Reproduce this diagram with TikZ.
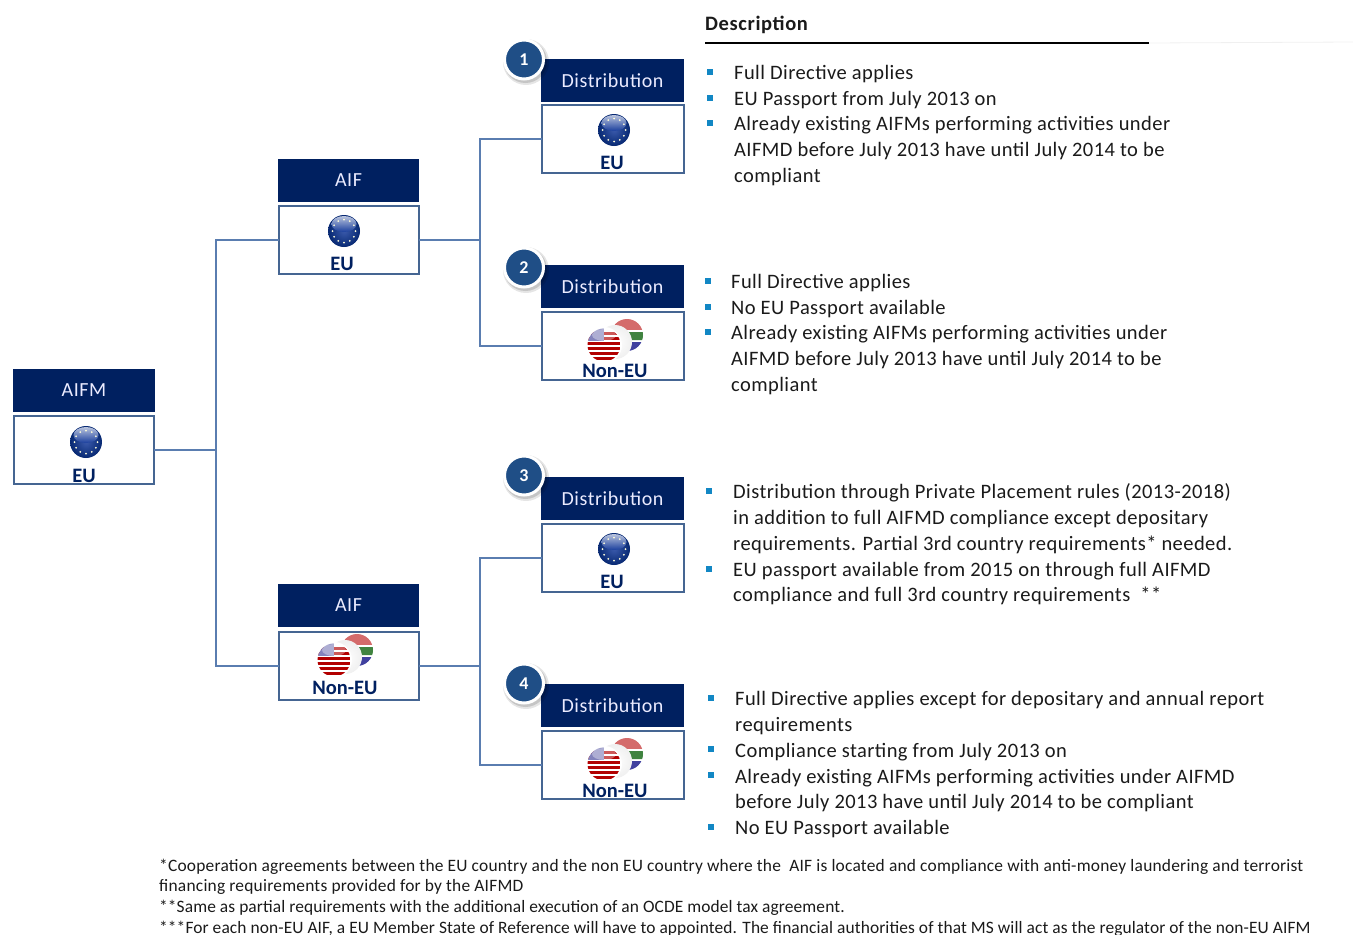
\documentclass[tikz,border=0pt]{standalone}
\usepackage{fontspec}
\setmainfont{Carlito}
\newfontfamily\bodyf[LetterSpace=2.1]{Carlito}
\newfontfamily\headf[LetterSpace=3]{Carlito}
\newfontfamily\noteA[LetterSpace=1.3]{Carlito}
\newfontfamily\noteB[LetterSpace=0.6]{Carlito}
\usetikzlibrary{calc}
\definecolor{navy}{HTML}{002060}
\definecolor{boxline}{HTML}{456592}
\definecolor{wire}{HTML}{5A7DB0}
\definecolor{bul}{HTML}{1287C4}
\definecolor{body}{HTML}{1A1A1A}
\definecolor{ball}{HTML}{1F4E86}
\definecolor{eublue}{HTML}{173C9C}
\tikzset{
 x=1pt,y=-1pt,
 head/.style={fill=navy,text=white!92!blue,font=\headf\fontsize{20}{24}\selectfont,minimum height=43pt,minimum width=142pt,inner sep=0pt,outer sep=0pt},
 boxA/.style={draw=boxline,line width=2pt,fill=white,minimum width=140pt,minimum height=68pt,inner sep=0pt,outer sep=0pt},
 boxB/.style={boxA,minimum width=142pt},
 wirel/.style={draw=wire,line width=2pt},
 lab/.style={text=navy,font=\bfseries\fontsize{20.5}{24}\selectfont,inner sep=0pt},
 num/.style={circle,draw=white,line width=3pt,fill=ball,text=white,font=\bfseries\fontsize{18}{20}\selectfont,minimum size=39pt,inner sep=0pt},
 para/.style={anchor=north west,align=left,inner sep=0pt,text=body,font=\bodyf\fontsize{20.5}{25.7}\selectfont},
 note/.style={anchor=north west,align=left,inner sep=0pt,text=body,font=\noteA\fontsize{17.4}{20.5}\selectfont},
 bullet/.style={fill=bul,minimum size=6pt,inner sep=0pt},
 globe/.pic={
  \shade[inner color=eublue!85!white,outer color=navy!70!eublue] (0,0) circle (16);
  \shade[top color=white!78!eublue,bottom color=eublue,opacity=.9] (0,-7) ellipse (12.5 and 8);
  \foreach \a in {0,30,...,330}{\fill[white!85!yellow] (\a:11.5) circle (1);}
 },
 flags/.pic={
  \begin{scope}
   \clip (23,-10) circle (16);
   \fill[white] (6,-27) rectangle (40,7);
   \fill[red!55!gray!75] (6,-27) rectangle (40,-15);
   \fill[blue!50!black!75] (6,-3) rectangle (40,7);
   \fill[green!35!black!75] (16,-13) -- (40,-13) -- (40,-5) -- (20,-5) -- cycle;
  \end{scope}
  \shade[inner color=white,outer color=white!88!gray] (11,-3) circle (17);
  \fill[white] (0,0) circle (18);
  \begin{scope}
   \clip (0,0) circle (16.5);
   \fill[white] (-17,-17) rectangle (17,17);
   \foreach \s in {-13,-8,-3,2,7,12}{\fill[red!70!black] (-17,\s) rectangle (17,\s+2.6);}
   \fill[blue!30!gray!75] (-17,-17) rectangle (0,-4);
   \shade[top color=white,bottom color=white,middle color=white,opacity=.35] (0,-10) ellipse (12 and 6);
  \end{scope}
 },
}
\newcommand{\blt}[3]{\node[bullet] (#1) at (#2,#3) {};}
\begin{document}
\begin{tikzpicture}
\useasboundingbox (0,0) rectangle (1353,935);
% headers
\node[head] (hm) at (84,390.5) {AIFM};
\node[head,minimum width=141pt] (ha1) at (348.5,180.5) {AIF};
\node[head,minimum width=141pt] (ha2) at (348.5,605.5) {AIF};
\node[head,minimum width=143pt] (hd1) at (612.5,80.5) {Distribution};
\node[head,minimum width=143pt] (hd2) at (612.5,286.5) {Distribution};
\node[head,minimum width=143pt] (hd3) at (612.5,498.5) {Distribution};
\node[head,minimum width=143pt] (hd4) at (612.5,705.5) {Distribution};
% boxes
\node[boxA] (bm) at (84,450) {};
\node[boxA] (ba1) at (348.5,240) {};
\node[boxA] (ba2) at (348.5,665.5) {};
\node[boxB] (bd1) at (612.5,139) {};
\node[boxB] (bd2) at (612.5,345.5) {};
\node[boxB] (bd3) at (612.5,558) {};
\node[boxB] (bd4) at (612.5,764.5) {};
% connectors
\coordinate (busA) at (216,450);
\coordinate (busB) at (480,240);
\coordinate (busC) at (480,665.5);
\draw[wirel] (bm.east) -- (busA);
\draw[wirel] (busA) |- (ba1.west);
\draw[wirel] (busA) |- (ba2.west);
\draw[wirel] (ba1.east) -- (busB);
\draw[wirel] (busB) |- (bd1.west);
\draw[wirel] (busB) |- (bd2.west);
\draw[wirel] (ba2.east) -- (busC);
\draw[wirel] (busC) |- (bd3.west);
\draw[wirel] (busC) |- (bd4.west);
% icons
\pic at (86,442) {globe};
\pic at (344,231) {globe};
\pic at (614,130) {globe};
\pic at (614,549) {globe};
\pic at (604,345) {flags};
\pic at (604,764) {flags};
\pic at (334,660) {flags};
% labels
\node[lab] (lm) at (84,475.5) {EU};
\node[lab] (la1) at (342,264) {EU};
\node[lab] (la2) at (345,688) {Non-EU};
\node[lab] (ld1) at (612,163) {EU};
\node[lab] (ld2) at (615,371) {Non-EU};
\node[lab] (ld3) at (612,582) {EU};
\node[lab] (ld4) at (615,791) {Non-EU};
% number badges
\foreach \yy in {59,267,475,683}{
 \fill[black,opacity=.10] (526,\yy+3) circle (23);
 \fill[black,opacity=.14] (525.5,\yy+2.5) circle (21.5);
}
\node[num] (n1) at (524,59.5) {1};
\node[num] (n2) at (524,267.5) {2};
\node[num] (n3) at (524,475.5) {3};
\node[num] (n4) at (524,683.5) {4};
% description
\node[anchor=base west,inner sep=0pt,text=body,font=\headf\bfseries\fontsize{20.5}{24}\selectfont] (desc) at (705,30) {Description};
\coordinate (ruleL) at (705,43);
\coordinate (ruleM) at (1149,43);
\coordinate (ruleR) at (1353,42);
\draw[black,line width=1.3pt] (ruleL) -- (ruleM);
\draw[black!6,line width=.8pt] (ruleM) -- (ruleR);
% block 1
\blt{b11}{710}{72}\blt{b12}{710}{98}\blt{b13}{710}{123}
\node[para] (t11) at (734,61) {\strut Full Directive applies};
\node[para] (t12) at (734,87) {\strut EU Passport from July 2013 on};
\node[para] (t13) at (734,112.5) {\strut Already existing AIFMs performing activities under\\AIFMD before July 2013 have until July 2014 to be\\compliant};
% block 2
\blt{b21}{708}{281}\blt{b22}{708}{307}\blt{b23}{708}{332}
\node[para] (t21) at (731,270) {\strut Full Directive applies};
\node[para] (t22) at (731,296) {\strut No EU Passport available};
\node[para] (t23) at (731,321.5) {\strut Already existing AIFMs performing activities under\\AIFMD before July 2013 have until July 2014 to be\\compliant};
% block 3
\blt{b31}{709}{491}\blt{b32}{709}{569}
\node[para] (t31) at (733,480.5) {\strut Distribution through Private Placement rules (2013-2018)\\in addition to full AIFMD compliance except depositary\\requirements. Partial 3rd country requirements* needed.};
\node[para] (t32) at (733,558) {\strut EU passport available from 2015 on through full AIFMD\\compliance and full 3rd country requirements\ \ **};
% block 4
\blt{b41}{711}{698}\blt{b42}{711}{749}\blt{b43}{711}{775}\blt{b44}{711}{827}
\node[para] (t41) at (735,687.5) {\strut Full Directive applies except for depositary and annual report\\requirements};
\node[para] (t42) at (735,739) {\strut Compliance starting from July 2013 on};
\node[para] (t43) at (735,765) {\strut Already existing AIFMs performing activities under AIFMD\\before July 2013 have until July 2014 to be compliant};
\node[para] (t44) at (735,816.5) {\strut No EU Passport available};
% footnotes
\node[note] (f1) at (159,856.5) {\strut *Cooperation agreements between the EU country and the non EU country where the\ \ AIF is located and compliance with anti-money laundering and terrorist\\financing requirements provided for by the AIFMD};
\node[note,font=\noteB\fontsize{17.4}{20.5}\selectfont] (f2) at (159,898) {\strut **Same as partial requirements with the additional execution of an OCDE model tax agreement.};
\node[note,font=\noteB\fontsize{17.4}{20.5}\selectfont] (f3) at (159,918.5) {\strut ***For each non-EU AIF, a EU Member State of Reference will have to appointed. The financial authorities of that MS will act as the regulator of the non-EU AIFM};
\end{tikzpicture}
\end{document}
